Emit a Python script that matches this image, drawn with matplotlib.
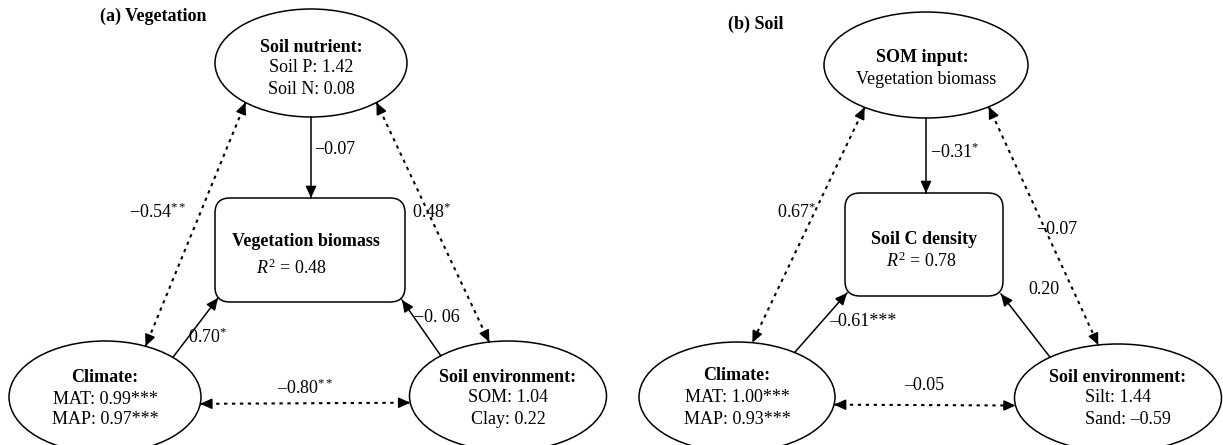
import numpy as np
import matplotlib.pyplot as plt
from matplotlib.patches import Ellipse, FancyBboxPatch, FancyArrowPatch

plt.rcParams['font.family'] = ['Liberation Serif', 'DejaVu Serif']
plt.rcParams['mathtext.fontset'] = 'custom'
plt.rcParams['mathtext.rm'] = 'Liberation Serif'
plt.rcParams['mathtext.it'] = 'Liberation Serif:italic'
plt.rcParams['mathtext.bf'] = 'Liberation Serif:bold'

# (a) vegetation biomass model
veg_title = '(a) Vegetation'
veg_top = ['Soil nutrient:', 'Soil P: 1.42', 'Soil N: 0.08']
veg_climate = ['Climate:', 'MAT: 0.99***', 'MAP: 0.97***']
veg_env = ['Soil environment:', 'SOM: 1.04', 'Clay: 0.22']
veg_target = ['Vegetation biomass', '$R^2$ = 0.48']
# direct paths: top -> target, climate -> target, environment -> target
veg_paths = ['−0.07', '0.70$^{*}$', '−0. 06']
# covariances: top-climate, top-environment, climate-environment
veg_covs = ['−0.54$^{**}$', '0.48$^{*}$', '–0.80$^{**}$']

# (b) soil carbon model
soil_title = '(b) Soil'
soil_top = ['SOM input:', 'Vegetation biomass']
soil_climate = ['Climate:', 'MAT: 1.00***', 'MAP: 0.93***']
soil_env = ['Soil environment:', 'Silt: 1.44', 'Sand: –0.59']
soil_target = ['Soil C density', '$R^2$ = 0.78']
soil_paths = ['−0.31$^{*}$', '–0.61***', '0.20']
soil_covs = ['0.67$^{*}$', '−0.07', '–0.05']

FS = 13
LW = 1.1

fig = plt.figure(figsize=(12.23, 4.45), dpi=100)
ax = fig.add_axes([0, 0, 1, 1])
ax.set_xlim(0, 1223)
ax.set_ylim(445, 0)
ax.axis('off')


def rim(node, deg):
    cx, cy, w, h = node
    t = np.radians(deg)
    return cx + w / 2 * np.cos(t), cy + h / 2 * np.sin(t)


def head(p0, p1):
    # solid filled arrow head pointing at p1
    v = np.subtract(p1, p0)
    v = v / np.hypot(*v)
    start = np.asarray(p1) - v * 9
    ax.add_patch(FancyArrowPatch(tuple(start), tuple(p1),
                                 arrowstyle='-|>,head_length=7,head_width=3.2',
                                 mutation_scale=1, shrinkA=0, shrinkB=0,
                                 lw=LW, color='black'))


def solid(p0, p1):
    ax.plot([p0[0], p1[0]], [p0[1], p1[1]], color='black', lw=LW)
    head(p0, p1)


def dashed(p0, p1):
    ax.plot([p0[0], p1[0]], [p0[1], p1[1]], color='black', lw=1.5,
            linestyle=(0, (1.6, 2.2)))
    head(p1, p0)
    head(p0, p1)


def draw_panel(lay, title, top, climate, env, target, paths, covs):
    ax.text(lay['title'][0], lay['title'][1], title, fontsize=FS,
            fontweight='bold', ha='left', va='center')

    for key, lines in (('top', top), ('clim', climate), ('env', env)):
        cx, cy, w, h = lay[key]
        ax.add_patch(Ellipse((cx, cy), w, h, fill=False, lw=LW, ec='black'))
        for i, (s, (x, y)) in enumerate(zip(lines, lay[key + '_txt'])):
            ha = 'center'
            if key + '_ha' in lay and i > 0:
                ha = lay[key + '_ha']
            ax.text(x, y, s, fontsize=FS, ha=ha, va='center',
                    fontweight='bold' if i == 0 else 'normal')

    bx, by, bw, bh = lay['box']
    ax.add_patch(FancyBboxPatch((bx, by), bw, bh,
                                boxstyle='round,pad=0,rounding_size=15',
                                fill=False, lw=LW, ec='black'))
    for i, (s, (x, y)) in enumerate(zip(target, lay['box_txt'])):
        ax.text(x, y, s, fontsize=FS, ha='center', va='center',
                fontweight='bold' if i == 0 else 'normal')

    top_n, clim_n, env_n = lay['top'], lay['clim'], lay['env']
    # direct paths into the target box
    p_top = rim(top_n, 90)
    solid(p_top, (p_top[0], by))
    solid(rim(clim_n, lay['a_clim']), lay['box_bl'])
    solid(rim(env_n, lay['a_env']), lay['box_br'])
    # covariances
    dashed(rim(top_n, lay['a_top_l']), rim(clim_n, lay['a_clim_t']))
    dashed(rim(top_n, lay['a_top_r']), rim(env_n, lay['a_env_t']))
    dashed(rim(clim_n, lay['a_h'][0]), rim(env_n, lay['a_h'][1]))

    for s, (x, y, ha) in zip(paths, lay['path_lbl']):
        ax.text(x, y, s, fontsize=FS, ha=ha, va='center')
    for s, (x, y, ha) in zip(covs, lay['cov_lbl']):
        ax.text(x, y, s, fontsize=FS, ha=ha, va='center')


lay_a = dict(
    title=(100, 16),
    top=(311, 63, 192, 108), top_txt=[(311, 47), (311, 68), (311, 89)],
    clim=(105, 397, 192, 112), clim_txt=[(105, 377), (105, 399), (105, 420)],
    env=(508, 396, 197, 110), env_txt=[(508, 377), (508, 398), (508, 419)],
    box=(215, 198, 190, 104), box_txt=[(306, 242), (292, 268)],
    box_bl=(218, 298), box_br=(402, 300),
    a_clim=-45, a_env=-133, a_top_l=133, a_clim_t=-65, a_top_r=47,
    a_env_t=-101, a_h=(7, 173),
    path_lbl=[(314, 150, 'left'), (188, 337, 'left'), (414, 318, 'left')],
    cov_lbl=[(187, 212, 'right'), (412, 212, 'left'), (305, 388, 'center')],
)

lay_b = dict(
    title=(728, 24),
    top=(926, 65, 204, 106), top_txt=[(922, 58), (926, 80)],
    clim=(737, 397, 196, 110), clim_txt=[(737, 376), (737, 398), (737, 419)],
    env=(1118, 398, 207, 108), env_txt=[(1118, 378), (1085, 398), (1085, 419)],
    env_ha='left',
    box=(845, 193, 158, 103), box_txt=[(924, 240), (922, 261)],
    box_bl=(847, 293), box_br=(1001, 294),
    a_clim=-54, a_env=-131, a_top_l=127, a_clim_t=-81, a_top_r=52,
    a_env_t=-101, a_h=(8, 172),
    path_lbl=[(930, 152, 'left'), (829, 322, 'left'), (1028, 290, 'left')],
    cov_lbl=[(816, 212, 'right'), (1036, 230, 'left'), (924, 386, 'center')],
)

draw_panel(lay_a, veg_title, veg_top, veg_climate, veg_env, veg_target,
           veg_paths, veg_covs)
draw_panel(lay_b, soil_title, soil_top, soil_climate, soil_env, soil_target,
           soil_paths, soil_covs)

fig.savefig('out.png', dpi=100, facecolor='white')
